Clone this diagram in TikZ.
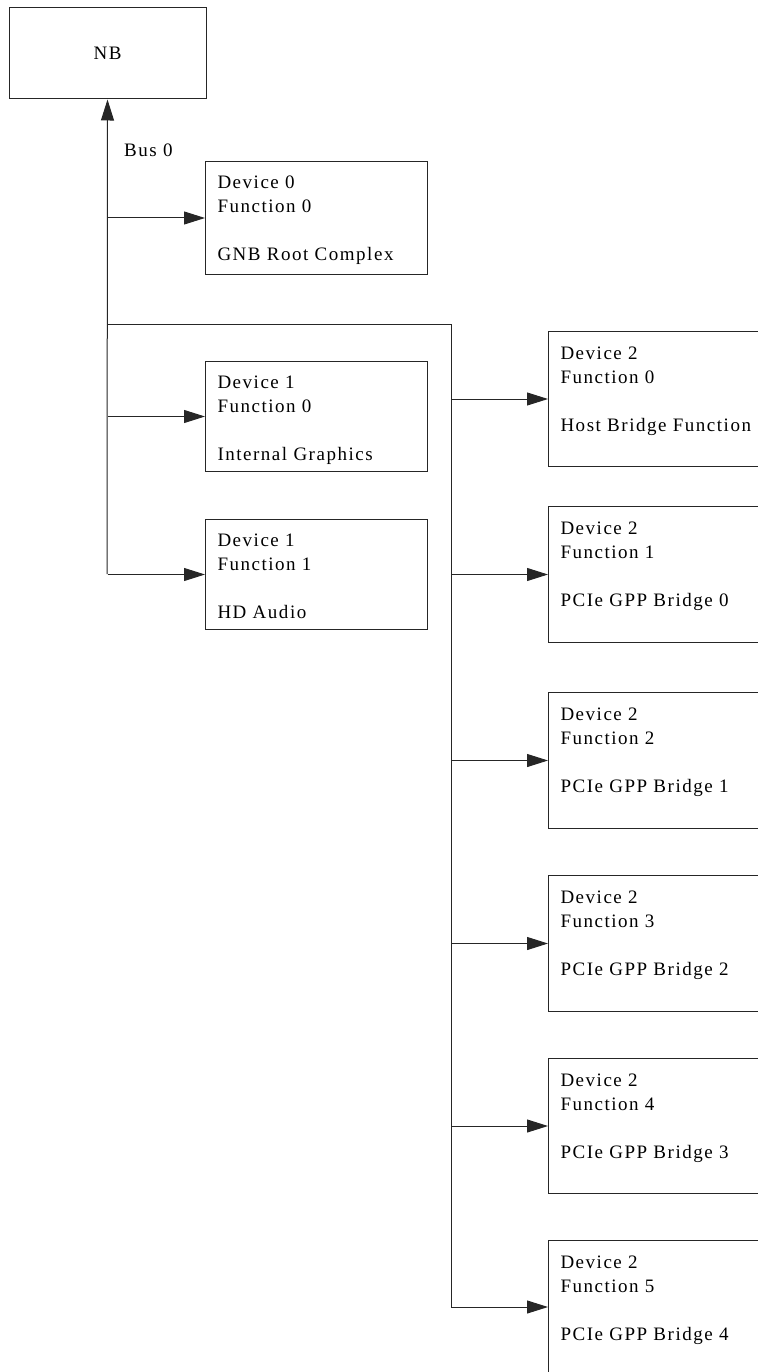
\documentclass[tikz,border=0pt]{standalone}
\usepackage{fontspec}
\setmainfont{Liberation Serif}[LetterSpace=8]
\usetikzlibrary{arrows.meta}
\tikzset{
  boxshape/.style={draw=black!85, line width=1pt, inner sep=0pt, anchor=north west},
  wire/.style={draw=black!85, line width=1pt},
  arr/.style={wire, -{Triangle[length=21pt,width=13pt]}},
  lbl/.style={inner sep=0pt, font=\fontsize{19pt}{24pt}\selectfont}
}
\newcommand{\boxtext}[4]{\begin{minipage}[t][#1][t]{#2}\fontsize{19pt}{24pt}\selectfont\vspace*{#3}\hspace*{12pt}\strut\ignorespaces#4\end{minipage}}
\newcommand{\threeline}[3]{#1\\\hspace*{12pt}#2\\[24pt]\hspace*{12pt}#3}
\begin{document}
\begin{tikzpicture}[x=1pt,y=-1pt]
\useasboundingbox (0,0) rectangle (757,1372);
% NB
\node[draw=black!85, line width=1pt, minimum width=197pt, minimum height=91pt, inner sep=0pt,
      font=\fontsize{19pt}{24pt}\selectfont] (nb) at (107.5,53.5) {NB};
% left boxes
\node[boxshape] (d0) at (205,161) {\boxtext{113pt}{222pt}{10.5pt}{\threeline{Device 0}{Function 0}{GNB Root Complex}}};
\node[boxshape] (d1) at (205,361) {\boxtext{110pt}{222pt}{10pt}{\threeline{Device 1}{Function 0}{Internal Graphics}}};
\node[boxshape] (d2) at (205,519) {\boxtext{110pt}{222pt}{10pt}{\threeline{Device 1}{Function 1}{HD Audio}}};
% right boxes
\node[boxshape] (r0) at (548,331) {\boxtext{135pt}{230pt}{11.5pt}{\threeline{Device 2}{Function 0}{Host Bridge Function}}};
\node[boxshape] (r1) at (548,506) {\boxtext{136pt}{230pt}{11.5pt}{\threeline{Device 2}{Function 1}{PCIe GPP Bridge 0}}};
\node[boxshape] (r2) at (548,692) {\boxtext{136pt}{230pt}{11.5pt}{\threeline{Device 2}{Function 2}{PCIe GPP Bridge 1}}};
\node[boxshape] (r3) at (548,875) {\boxtext{136pt}{230pt}{11.5pt}{\threeline{Device 2}{Function 3}{PCIe GPP Bridge 2}}};
\node[boxshape] (r4) at (548,1058) {\boxtext{135pt}{230pt}{11.5pt}{\threeline{Device 2}{Function 4}{PCIe GPP Bridge 3}}};
\node[boxshape] (r5) at (548,1240) {\boxtext{135pt}{230pt}{11.5pt}{\threeline{Device 2}{Function 5}{PCIe GPP Bridge 4}}};
% bus label
\node[lbl, anchor=base west] (bus) at (124,157) {Bus 0};
% bus line
\coordinate (busbot) at (107,574);
\coordinate (br) at (451,324);
\coordinate (brbot) at (451,1307);
\draw[arr] (busbot) -- (nb.south);
\draw[arr] (nb.south |- d0.west) -- (d0.west);
\draw[arr] (nb.south |- d1.west) -- (d1.west);
\draw[arr] (nb.south |- d2.west) -- (d2.west);
\draw[wire] (nb.south |- br) -- (br) -- (brbot);
\draw[arr] (br |- r0.west) -- (r0.west);
\draw[arr] (br |- r1.west) -- (r1.west);
\draw[arr] (br |- r2.west) -- (r2.west);
\draw[arr] (br |- r3.west) -- (r3.west);
\draw[arr] (br |- r4.west) -- (r4.west);
\draw[arr] (brbot) -- (r5.west |- brbot);
\end{tikzpicture}
\end{document}
